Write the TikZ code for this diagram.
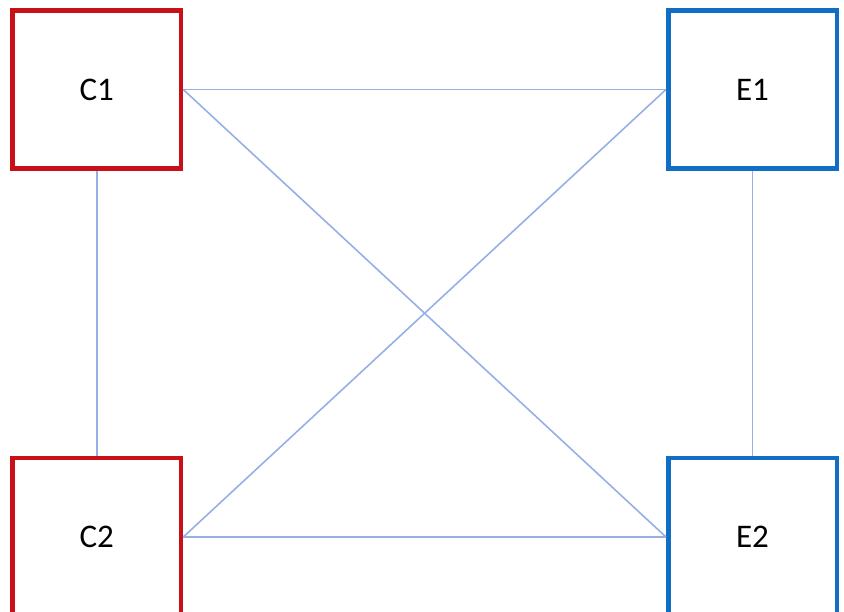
\documentclass[tikz,border=0pt]{standalone}
\usepackage{fontspec}
\setmainfont{Carlito}
\definecolor{cred}{RGB}{200,16,24}
\definecolor{cblue}{RGB}{18,110,196}
\definecolor{clink}{RGB}{150,176,230}
\begin{document}
\begin{tikzpicture}[x=1pt,y=-1pt,
  box/.style={draw,line width=4.5pt,minimum width=168.5pt,minimum height=158pt,inner sep=0pt,fill=white,font=\fontsize{33}{40}\selectfont},
  redbox/.style={box,draw=cred},
  bluebox/.style={box,draw=cblue},
  link/.style={draw=clink,line width=1.6pt}]
\useasboundingbox (0,0) rectangle (844,611);
\clip (0,0) rectangle (844,611);
\node[redbox] (C1) at (96.75,89.5) {C1};
\node[bluebox] (E1) at (752.5,89.5) {E1};
\node[redbox] (C2) at (96.75,537) {C2};
\node[bluebox] (E2) at (752.5,537) {E2};
\draw[link] (C1.east) -- (E1.west);
\draw[link] (C1.east) -- (E2.west);
\draw[link] (E1.west) -- (C2.east);
\draw[link] (C2.east) -- (E2.west);
\draw[link] (C1.south) -- (C2.north);
\draw[link] (E1.south) -- (E2.north);
\end{tikzpicture}
\end{document}
